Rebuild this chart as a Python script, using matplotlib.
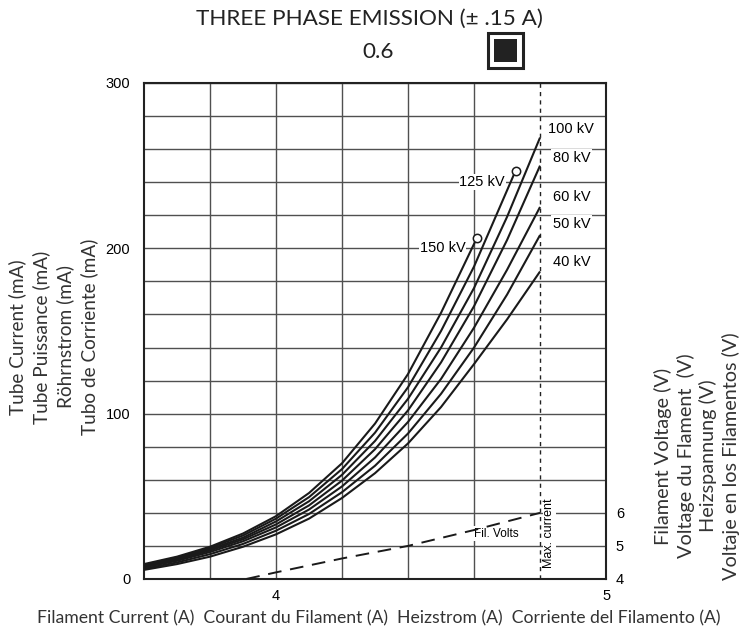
import numpy as np
import matplotlib
matplotlib.use("Agg")
import matplotlib.pyplot as plt
from matplotlib.patches import Rectangle

# DATA

amps = [3.6, 3.7, 3.8, 3.9, 4.0, 4.1, 4.2, 4.3, 4.4, 4.5, 4.6, 4.7, 4.8]

ma_150 = [9, 13.5, 19.5, 27.5, 38, 52, 70, 94, 124, 161]
ma_125 = [8.5, 13, 18.8, 26.3, 36.5, 49.5, 66.5, 88.5, 116, 150, 189]
ma_100 = [8, 12.3, 18, 25, 34.8, 47, 63, 83.5, 109, 140, 176, 219, 267]
ma_80 = [7.5, 11.7, 17.2, 24, 33, 44.5, 59.5, 78.5, 102, 131, 165, 205, 250]
ma_60 = [7, 11, 16.3, 22.8, 31.2, 42, 56, 73.5, 95, 121, 152, 187, 225]
ma_50 = [6.2, 10, 15, 21.2, 29.2, 39.3, 52.5, 68.5, 88, 112, 140, 172, 208]
ma_40 = [5.5, 9, 13.5, 19.5, 27, 36.5, 49, 64, 82, 104, 130, 157, 186]

# end points (open circles) of the 150 kV and 125 kV curves
end_150 = (4.608, 206)
end_125 = (4.726, 247)

fil_amps = [3.91, 4.0, 4.2, 4.4, 4.6, 4.8]
fil_volts = [4.0, 4.2, 4.62, 5.0, 5.48, 6.0]

max_current = 4.8

kv_labels = ["100 kV", "80 kV", "60 kV", "50 kV", "40 kV"]
kv_label_ma = [272, 254.5, 231, 214.5, 192]

left_label = "Tube Current (mA)\nTube Puissance (mA)\nRöhrnstrom (mA)\nTubo de Corriente (mA)"
right_label = ("Filament Voltage (V)\nVoltage du Flament  (V)\n"
               "Heizspannung (V)\nVoltaje en los Filamentos (V)")
bottom_label = ("Filament Current (A)  Courant du Filament (A)  "
                "Heizstrom (A)  Corriente del Filamento (A)")

head_font = "Lato"
num_font = "Liberation Sans"

# =========================================================
# FIGURE
# =========================================================

fig = plt.figure(figsize=(7.39, 6.34), dpi=100)
ax = fig.add_axes([0.1949, 0.0868, 0.6252, 0.7823])

ax.set_xlim(3.6, 5.0)
ax.set_ylim(0, 300)

ax.set_xticks([4, 5])
ax.set_xticks([3.8, 4.2, 4.4, 4.6], minor=True)
ax.set_yticks([0, 100, 200, 300])
ax.set_yticks([v for v in range(20, 300, 20) if v % 100], minor=True)
ax.tick_params(which="both", length=0)
ax.tick_params(axis="y", pad=10)
ax.tick_params(axis="x", pad=7)
ax.grid(which="both", color="#505050", linewidth=1.0, zorder=0)
ax.set_axisbelow(True)
for lab in ax.get_xticklabels() + ax.get_yticklabels():
    lab.set_fontfamily(num_font)
    lab.set_fontsize(10.5)
for sp in ax.spines.values():
    sp.set_linewidth(1.5)
    sp.set_color("#222222")

# max current dashed line
ax.axvline(max_current, color="#222222", linewidth=1.0,
           linestyle=(0, (3, 3)), zorder=2)

# emission curves
curves = [ma_150, ma_125, ma_100, ma_80, ma_60, ma_50, ma_40]
for c in curves:
    xs = list(amps[:len(c)])
    ys = list(c)
    if c is ma_150:
        xs.append(end_150[0]); ys.append(end_150[1])
    if c is ma_125:
        xs.append(end_125[0]); ys.append(end_125[1])
    ax.plot(xs, ys, color="#1a1a1a", linewidth=1.5, zorder=3,
            solid_capstyle="butt", solid_joinstyle="round")

ax.plot([end_150[0], end_125[0]], [end_150[1], end_125[1]], "o",
        markersize=6, markerfacecolor="white", markeredgecolor="#1a1a1a",
        markeredgewidth=1.1, linestyle="none", zorder=4)

# curve labels
box = dict(facecolor="white", edgecolor="none", pad=1.5)
for lab, y in zip(kv_labels, kv_label_ma):
    ax.text(4.895, y, lab, ha="center", va="center", fontsize=10.5,
            family=num_font, bbox=box, zorder=2)
ax.text(4.625, 240, "125 kV", ha="center", va="center", fontsize=10.5,
        family=num_font, bbox=dict(facecolor="white", edgecolor="none", pad=0.5),
        zorder=2)
ax.text(4.505, 200, "150 kV", ha="center", va="center", fontsize=10.5,
        family=num_font, bbox=dict(facecolor="white", edgecolor="none", pad=0.5),
        zorder=2)

ax.text(4.667, 27.5, "Fil. Volts", ha="center", va="center", fontsize=8.5,
        family=num_font, bbox=dict(facecolor="white", edgecolor="none", pad=1),
        zorder=2)
ax.text(4.828, 27.5, "Max. current", ha="center", va="center", fontsize=9,
        rotation=90, family=num_font,
        bbox=dict(facecolor="white", edgecolor="none", pad=0.5), zorder=2)

# =========================================================
# FILAMENT VOLTAGE (right axis)
# =========================================================

ax2 = ax.twinx()
ax2.set_ylim(4, 19)
ax2.set_yticks([4, 5, 6])
ax2.tick_params(length=0, pad=7)
for lab in ax2.get_yticklabels():
    lab.set_fontfamily(num_font)
    lab.set_fontsize(10.5)
for sp in ax2.spines.values():
    sp.set_visible(False)
ax2.plot(fil_amps, fil_volts, color="#1a1a1a", linewidth=1.4,
         linestyle=(0, (7, 4.5)), zorder=3)

# =========================================================
# TEXTS
# =========================================================

fig.text(0.5, 1 - 19 / 634, "THREE PHASE EMISSION (± .15 A)", ha="center",
         va="center", fontsize=16.2, family=head_font, color="#222222")
fig.text(378 / 739, 1 - 52 / 634, "0.6", ha="center", va="center",
         fontsize=16.2, family=head_font, color="#222222")

fig.patches.append(Rectangle((488 / 739, 1 - 68 / 634), 35 / 739, 35 / 634,
                             transform=fig.transFigure, facecolor="white",
                             edgecolor="#222222", linewidth=2.2))
fig.patches.append(Rectangle((494 / 739, 1 - 62 / 634), 23 / 739, 23 / 634,
                             transform=fig.transFigure, facecolor="#222222",
                             edgecolor="none"))

fig.text(53 / 739, 1 - 337 / 634, left_label, rotation=90, ha="center",
         va="center", multialignment="center", fontsize=13.7,
         family=head_font, color="#333333", linespacing=1.4)
fig.text(697 / 739, 1 - 456 / 634, right_label, rotation=90, ha="center",
         va="center", multialignment="center", fontsize=14.3,
         family=head_font, color="#333333", linespacing=1.3)
fig.text(379 / 739, 1 - 618 / 634, bottom_label, ha="center", va="center",
         fontsize=12.7, family=head_font, color="#333333")

fig.savefig("out.png", dpi=100)
